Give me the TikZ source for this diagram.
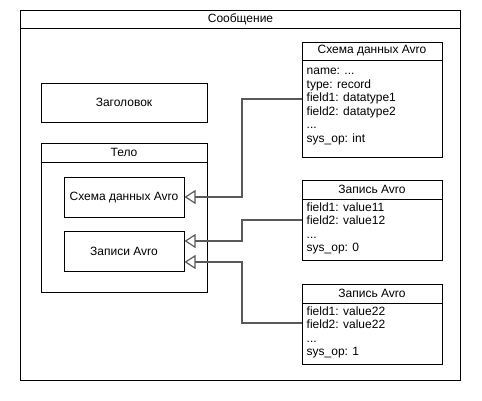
\documentclass[tikz,border=0pt]{standalone}
\usepackage{fontspec}
\setmainfont{Liberation Sans}
\usetikzlibrary{arrows.meta}
\begin{document}
\begin{tikzpicture}[x=1pt,y=-1pt,
  every node/.style={font=\fontsize{12}{13.5}\selectfont},
  box/.style={draw,line width=1pt,inner sep=0pt},
  sep/.style={line width=1pt},
  lbl/.style={inner sep=0pt},
  list/.style={inner sep=0pt,align=left,anchor=north west},
  conn/.style={draw=black!65,line width=1.3pt,-{Triangle[open,length=11pt,width=14pt,line width=1.2pt]}}]
\useasboundingbox (0,0) rectangle (482,400);
% outer
\node[box,minimum width=440pt,minimum height=370pt] (msg) at (240.5,195) {};
\draw[sep] (msg.west |- 0,28) -- (msg.east |- 0,28);
\node[lbl] (msgT) at (240.5,19) {Сообщение};
% left
\node[box,minimum width=166pt,minimum height=39pt] (hdr) at (124,102.5) {Заголовок};
\node[box,minimum width=166pt,minimum height=149pt] (body) at (124,217.5) {};
\draw[sep] (body.west |- 0,162) -- (body.east |- 0,162);
\node[lbl] (bodyT) at (124,152.5) {Тело};
\node[box,minimum width=120pt,minimum height=40pt] (schI) at (124,197) {Схема данных Avro};
\node[box,minimum width=120pt,minimum height=40pt] (recs) at (124,251) {Записи Avro};
% right schema
\node[box,minimum width=140pt,minimum height=115pt] (schR) at (372,99.5) {};
\draw[sep] (schR.west |- 0,60.5) -- (schR.east |- 0,60.5);
\node[lbl] (schRT) at (372,51) {Схема данных Avro};
\node[list] (schRL) at (306.5,65.2) {\strut name: ...\\type: record\\field1: datatype1\\field2: datatype2\\...\\sys\_op: int};
% record 1
\node[box,minimum width=140pt,minimum height=80pt] (rec1) at (372,220) {};
\draw[sep] (rec1.west |- 0,199) -- (rec1.east |- 0,199);
\node[lbl] (rec1T) at (372,189.5) {Запись Avro};
\node[list] (rec1L) at (306.5,201.5) {\strut field1: value11\\field2: value12\\...\\sys\_op: 0};
% record 2
\node[box,minimum width=140pt,minimum height=80pt] (rec2) at (372,324) {};
\draw[sep] (rec2.west |- 0,303) -- (rec2.east |- 0,303);
\node[lbl] (rec2T) at (372,293.5) {Запись Avro};
\node[list] (rec2L) at (306.5,305.5) {\strut field1: value22\\field2: value22\\...\\sys\_op: 1};
% connector anchors
\coordinate (a1) at (schR.west |- 0,99);
\coordinate (a2) at (rec1.west |- 0,220);
\coordinate (a3) at (rec2.west |- 0,323);
\coordinate (bend) at (242,0);
\coordinate (t1) at (schI.east);
\coordinate (t2) at ([yshift=10pt]recs.east);
\coordinate (t3) at ([yshift=-11pt]recs.east);
\draw[conn] (a1) -- (a1 -| bend) |- (t1);
\draw[conn] (a2) -- (a2 -| bend) |- (t2);
\draw[conn] (a3) -- (a3 -| bend) |- (t3);
\end{tikzpicture}
\end{document}
